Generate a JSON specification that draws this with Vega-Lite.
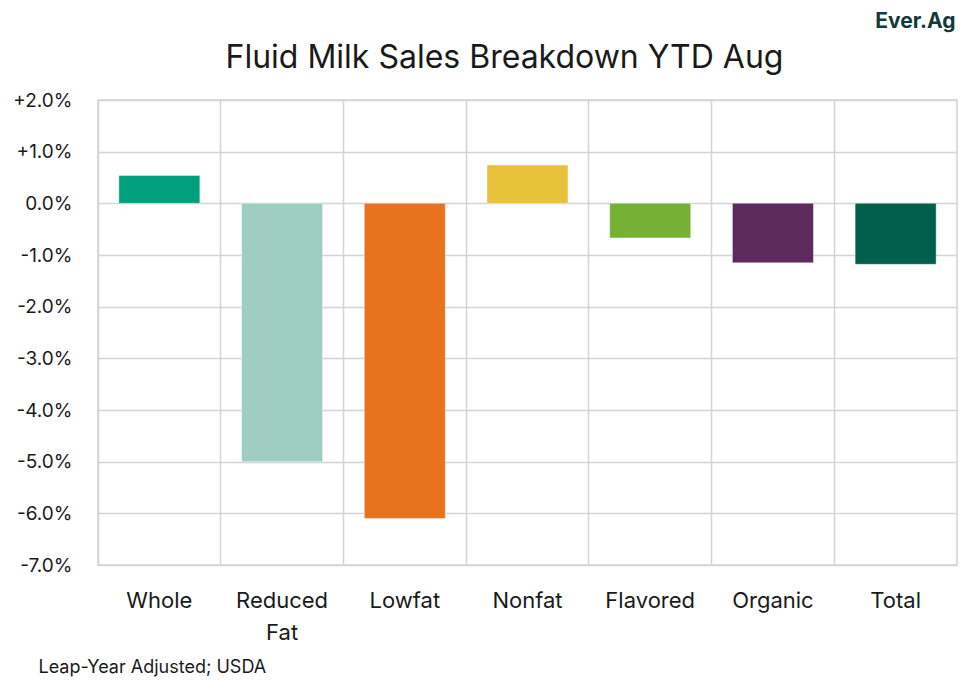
{
  "$schema": "https://vega.github.io/schema/vega-lite/v6.json",
  "width": 859,
  "height": 465,
  "autosize": {"type": "none"},
  "padding": {"left": 98, "top": 100, "right": 18, "bottom": 132},
  "background": "white",
  "config": {
    "font": "Inter",
    "view": {"stroke": "#d4d4d4", "strokeWidth": 1.5}
  },
  "title": {
    "text": "Fluid Milk Sales Breakdown YTD Aug",
    "fontSize": 32,
    "fontWeight": "normal",
    "color": "#1a1a1a",
    "anchor": "middle",
    "baseline": "bottom",
    "dx": -23,
    "offset": -97
  },
  "data": {
    "values": [
      {"category": "Whole", "change": 0.54},
      {"category": "Reduced Fat", "change": -5.0},
      {"category": "Lowfat", "change": -6.1},
      {"category": "Nonfat", "change": 0.74},
      {"category": "Flavored", "change": -0.67},
      {"category": "Organic", "change": -1.15},
      {"category": "Total", "change": -1.18}
    ]
  },
  "layer": [
    {
      "mark": {"type": "bar", "width": {"band": 0.66}, "stroke": "white", "strokeOpacity": 0.4, "strokeWidth": 1},
      "encoding": {
        "x": {
          "field": "category",
          "type": "nominal",
          "sort": null,
          "scale": {"paddingInner": 0, "paddingOuter": 0},
          "axis": {
            "title": "Leap-Year Adjusted; USDA",
            "titleFontSize": 18,
            "titleFontWeight": "normal",
            "titleColor": "#1a1a1a",
            "titleAnchor": "start",
            "titleAlign": "left",
            "titleX": -60,
            "titleY": 102,
            "titleBaseline": "middle",
            "labelAngle": 0,
            "labelFontSize": 22,
            "labelColor": "#1a1a1a",
            "labelPadding": 25,
            "labelLineHeight": 32,
            "labelBaseline": "top",
            "labelExpr": "split(datum.label, ' ')",
            "ticks": false,
            "domain": false,
            "grid": true,
            "bandPosition": 0,
            "gridColor": "#d4d4d4",
            "gridWidth": 1.5
          }
        },
        "y": {
          "field": "change",
          "type": "quantitative",
          "scale": {"domain": [-7, 2], "nice": false},
          "axis": {
            "title": null,
            "values": [2, 1, 0, -1, -2, -3, -4, -5, -6, -7],
            "labelExpr": "datum.value > 0 ? '+' + format(datum.value, '.1f') + '%' : (datum.value < 0 ? '-' + format(-datum.value, '.1f') + '%' : '0.0%')",
            "labelFontSize": 19,
            "labelColor": "#1a1a1a",
            "labelPadding": 26,
            "ticks": false,
            "domain": false,
            "gridColor": "#d4d4d4",
            "gridWidth": 1.5
          }
        },
        "color": {
          "field": "category",
          "type": "nominal",
          "sort": null,
          "legend": null,
          "scale": {
            "domain": ["Whole", "Reduced Fat", "Lowfat", "Nonfat", "Flavored", "Organic", "Total"],
            "range": ["#00A07C", "#9FCDC1", "#E8731F", "#E8C13A", "#76B135", "#5C2A5C", "#01604B"]
          }
        }
      }
    },
    {
      "mark": {"type": "bar", "opacity": 0, "width": {"band": 0.66}},
      "encoding": {
        "x": {"field": "category", "type": "nominal", "sort": null},
        "y": {
          "field": "change",
          "type": "quantitative",
          "axis": {
            "orient": "right",
            "title": "Ever.Ag",
            "titleAngle": 0,
            "titleFontSize": 21,
            "titleFontWeight": "bold",
            "titleColor": "#123a3a",
            "titleAlign": "right",
            "titleAnchor": null,
            "titleX": -2,
            "titleY": -79,
            "titleBaseline": "middle",
            "labels": false,
            "ticks": false,
            "domain": false,
            "grid": false
          }
        }
      }
    }
  ],
  "resolve": {"axis": {"y": "independent"}}
}
